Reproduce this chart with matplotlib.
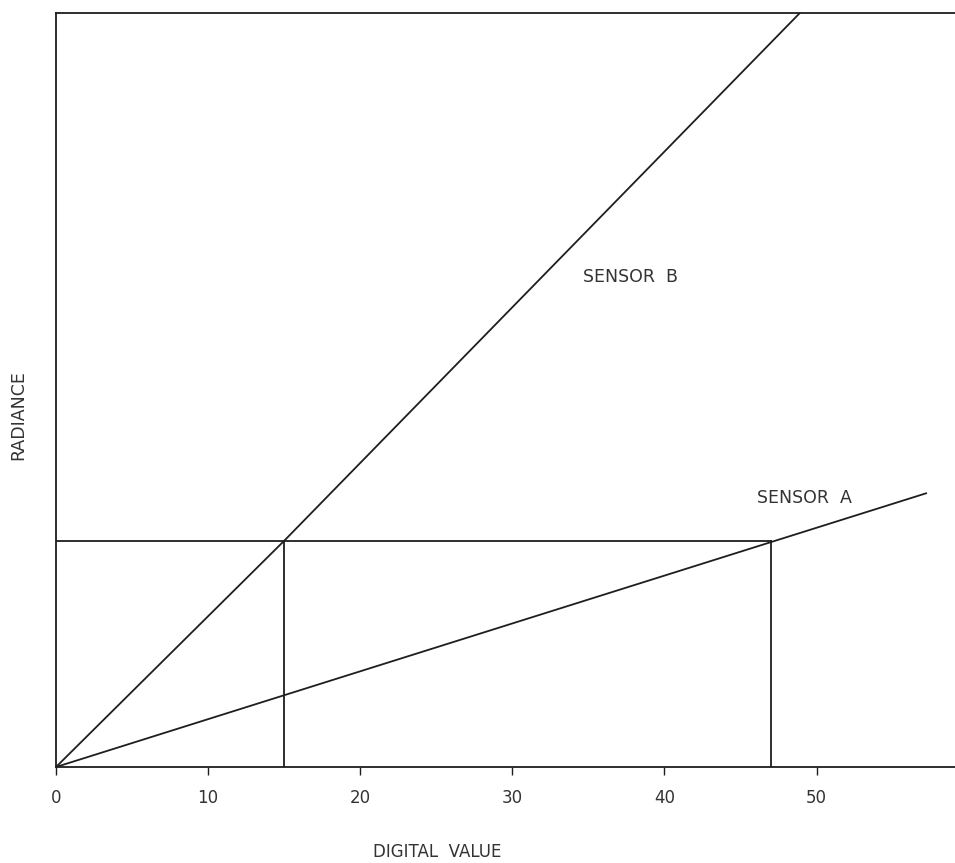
import matplotlib.pyplot as plt
import numpy as np

# digital value vs radiance (radiance in arbitrary units, 0-100)
sensor_a_dn = [0, 57.2]
sensor_a_rad = [0, 36.3]
sensor_b_dn = [0, 15, 48.9]
sensor_b_rad = [0, 30, 100]

# common radiance level and the digital values it gives for each sensor
level = 30
dn_b = 15
dn_a = 47

xticks = [0, 10, 20, 30, 40, 50]
xlabels = ["0", "10", "20", "30", "40", "50"]

ink = "#1e1e1e"
txt = "#333333"
plt.rcParams['font.family'] = ['DejaVu Sans']

fig = plt.figure(figsize=(9.55, 8.63), dpi=100)
ax = fig.add_axes([56 / 955, 96 / 863, 1 - 56 / 955, 754 / 863])

ax.plot(sensor_a_dn, sensor_a_rad, color=ink, lw=1.3)
ax.plot(sensor_b_dn, sensor_b_rad, color=ink, lw=1.3)

ax.plot([0, dn_a], [level, level], color=ink, lw=1.3)
ax.plot([dn_b, dn_b], [0, level], color=ink, lw=1.3)
ax.plot([dn_a, dn_a], [0, level], color=ink, lw=1.3)

ax.text(37.8, 65.0, "SENSOR  B", fontsize=12.5, color=txt, ha="center", va="center")
ax.text(49.2, 35.7, "SENSOR  A", fontsize=12.5, color=txt, ha="center", va="center")

ax.set_xlim(0, 59.1)
ax.set_ylim(0, 100)
ax.set_xticks(xticks)
ax.set_xticklabels(xlabels, fontsize=12, color=txt)
ax.set_yticks([])
ax.tick_params(axis='x', direction='out', length=6, width=1, color=ink, pad=10)

for side in ['left', 'top', 'bottom']:
    ax.spines[side].set_color(ink)
    ax.spines[side].set_linewidth(1.3)
ax.spines['right'].set_visible(False)

fig.text(437 / 955, 1 - 852 / 863, "DIGITAL  VALUE", fontsize=12, color=txt,
         ha="center", va="center")
fig.text(18 / 955, 1 - 415 / 863, "RADIANCE", fontsize=12.5, color=txt,
         ha="center", va="center", rotation=90)

fig.savefig("out.png", dpi=100)
